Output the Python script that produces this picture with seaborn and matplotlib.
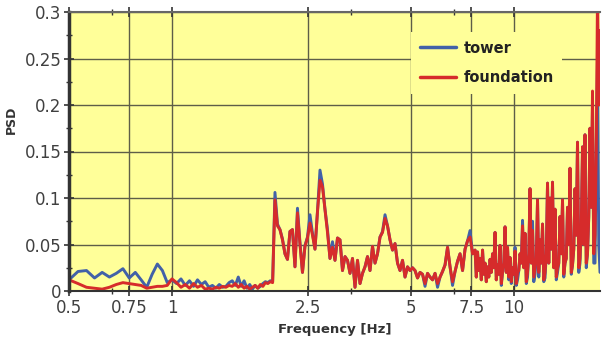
import numpy as np
import pandas as pd
import matplotlib
matplotlib.use("Agg")
import matplotlib.pyplot as plt
import seaborn as sns
from matplotlib.ticker import FixedLocator, FixedFormatter, NullFormatter

# ---------------- data ----------------
# low band: FFT bins every 1/32 Hz from 0.5 Hz
freq_low = 0.5 + np.arange(48) / 32.0
tower_low = [0.012, 0.021, 0.022, 0.014, 0.020, 0.015, 0.019, 0.024, 0.014, 0.020,
             0.012, 0.004, 0.018, 0.029, 0.022, 0.009, 0.012, 0.008, 0.013, 0.006,
             0.011, 0.005, 0.012, 0.007, 0.010, 0.004, 0.006, 0.003, 0.007, 0.004,
             0.005, 0.009, 0.011, 0.006, 0.015, 0.005, 0.011, 0.003, 0.007, 0.002,
             0.006, 0.003, 0.005, 0.008, 0.010, 0.009, 0.011, 0.010]
foundation_low = [0.012, 0.008, 0.004, 0.003, 0.002, 0.004, 0.007, 0.009, 0.008, 0.007,
                  0.006, 0.003, 0.004, 0.005, 0.005, 0.006, 0.013, 0.009, 0.004, 0.007,
                  0.003, 0.008, 0.004, 0.006, 0.002, 0.003, 0.002, 0.004, 0.003, 0.005,
                  0.004, 0.006, 0.005, 0.008, 0.004, 0.007, 0.003, 0.005, 0.002, 0.004,
                  0.006, 0.003, 0.007, 0.005, 0.009, 0.008, 0.010, 0.009]

# mid band: 2 Hz to ~7.7 Hz
freq_mid = np.geomspace(2.0, 7.69, 81)
foundation_mid = [
    0.098, 0.070, 0.066, 0.055, 0.040, 0.034, 0.064, 0.066, 0.026, 0.084,
    0.050, 0.020, 0.048, 0.057, 0.073, 0.060, 0.045, 0.085, 0.119, 0.112,
    0.087, 0.063, 0.035, 0.047, 0.033, 0.057, 0.055, 0.022, 0.037, 0.033,
    0.019, 0.035, 0.004, 0.033, 0.008, 0.019, 0.026, 0.037, 0.022, 0.048,
    0.030, 0.040, 0.058, 0.063, 0.078, 0.070, 0.055, 0.044, 0.051, 0.030,
    0.022, 0.033, 0.015, 0.026, 0.022, 0.025, 0.022, 0.014, 0.020, 0.018,
    0.008, 0.019, 0.015, 0.012, 0.019, 0.008, 0.015, 0.021, 0.028, 0.047,
    0.026, 0.010, 0.021, 0.032, 0.040, 0.022, 0.045, 0.054, 0.058, 0.040,
    0.044]
tower_mid = [
    0.106, 0.072, 0.066, 0.056, 0.040, 0.034, 0.064, 0.066, 0.026, 0.089,
    0.052, 0.020, 0.049, 0.058, 0.082, 0.062, 0.045, 0.086, 0.130, 0.115,
    0.088, 0.066, 0.035, 0.053, 0.033, 0.057, 0.055, 0.022, 0.037, 0.033,
    0.019, 0.035, 0.004, 0.033, 0.008, 0.019, 0.026, 0.037, 0.022, 0.048,
    0.030, 0.040, 0.058, 0.064, 0.082, 0.070, 0.055, 0.044, 0.051, 0.030,
    0.022, 0.033, 0.015, 0.026, 0.022, 0.025, 0.022, 0.014, 0.020, 0.018,
    0.005, 0.019, 0.015, 0.012, 0.019, 0.004, 0.015, 0.021, 0.028, 0.047,
    0.026, 0.006, 0.021, 0.032, 0.040, 0.022, 0.045, 0.054, 0.065, 0.040,
    0.044]

# top band: ~7.7 Hz to ~17.8 Hz (denser bins)
freq_top = np.geomspace(7.69, 17.83, 101)[1:]
foundation_top = [
    0.015, 0.042, 0.022, 0.035, 0.012, 0.044, 0.018, 0.030, 0.010, 0.026,
    0.015, 0.034, 0.020, 0.040, 0.025, 0.063, 0.012, 0.028, 0.018, 0.049,
    0.008, 0.020, 0.030, 0.069, 0.020, 0.047, 0.015, 0.036, 0.010, 0.025,
    0.018, 0.043, 0.008, 0.020, 0.022, 0.040, 0.030, 0.070, 0.025, 0.062,
    0.010, 0.020, 0.040, 0.110, 0.030, 0.065, 0.015, 0.025, 0.035, 0.098,
    0.020, 0.055, 0.030, 0.072, 0.012, 0.020, 0.040, 0.116, 0.030, 0.100,
    0.045, 0.117, 0.025, 0.088, 0.015, 0.025, 0.030, 0.080, 0.040, 0.098,
    0.018, 0.030, 0.035, 0.090, 0.050, 0.132, 0.020, 0.028, 0.045, 0.110,
    0.060, 0.160, 0.025, 0.035, 0.070, 0.155, 0.050, 0.168, 0.030, 0.040,
    0.080, 0.175, 0.090, 0.215, 0.040, 0.060, 0.150, 0.320, 0.200, 0.280]
tower_top = [
    0.015, 0.042, 0.022, 0.035, 0.012, 0.044, 0.018, 0.030, 0.010, 0.026,
    0.015, 0.034, 0.020, 0.040, 0.025, 0.063, 0.012, 0.028, 0.018, 0.049,
    0.006, 0.020, 0.030, 0.069, 0.020, 0.047, 0.012, 0.036, 0.008, 0.025,
    0.018, 0.047, 0.006, 0.012, 0.022, 0.040, 0.030, 0.076, 0.025, 0.062,
    0.008, 0.015, 0.040, 0.110, 0.030, 0.075, 0.010, 0.018, 0.035, 0.098,
    0.015, 0.055, 0.030, 0.072, 0.010, 0.014, 0.040, 0.116, 0.030, 0.100,
    0.045, 0.117, 0.025, 0.088, 0.012, 0.020, 0.030, 0.080, 0.040, 0.098,
    0.015, 0.030, 0.035, 0.090, 0.050, 0.132, 0.018, 0.028, 0.045, 0.110,
    0.060, 0.160, 0.020, 0.030, 0.070, 0.155, 0.050, 0.168, 0.025, 0.040,
    0.080, 0.175, 0.090, 0.200, 0.030, 0.030, 0.150, 0.250, 0.050, 0.020]

series = ["tower", "foundation"]
colors = {"tower": "#4261a8", "foundation": "#d62b2b"}
xtick_vals = [0.5, 0.75, 1, 2.5, 5, 7.5, 10]
xtick_labels = ["0.5", "0.75", "1", "2.5", "5", "7.5", "10"]
xminor_vals = [0.6667, 3.333, 6.667]
ytick_vals = [0, 0.05, 0.1, 0.15, 0.2, 0.25, 0.3]
ytick_labels = ["0", "0.05", "0.1", "0.15", "0.2", "0.25", "0.3"]
yminor_vals = [0.025, 0.075, 0.125, 0.175, 0.225, 0.275]

freq = np.concatenate([freq_low, freq_mid, freq_top])
df = pd.concat([
    pd.DataFrame({"freq": freq, "psd": tower_low + tower_mid + tower_top,
                  "sensor": "tower"}),
    pd.DataFrame({"freq": freq, "psd": foundation_low + foundation_mid + foundation_top,
                  "sensor": "foundation"}),
])

# ---------------- plot ----------------
sns.set_style("ticks", rc={"axes.facecolor": "#ffff99"})
plt.rcParams["font.family"] = ["DejaVu Sans"]

fig = plt.figure(figsize=(6.03, 3.38), dpi=100)
ax = fig.add_axes([69 / 603, 1 - 291 / 338, 531 / 603, 279 / 338])

sns.lineplot(data=df, x="freq", y="psd", hue="sensor", hue_order=series,
             palette=colors, linewidth=2.1, sort=False, estimator=None, ax=ax)

ax.set_xscale("log")
ax.set_xlim(0.5, 17.83)
ax.set_ylim(0, 0.3)

ax.xaxis.set_major_locator(FixedLocator(xtick_vals))
ax.xaxis.set_major_formatter(FixedFormatter(xtick_labels))
ax.xaxis.set_minor_locator(FixedLocator(xminor_vals))
ax.xaxis.set_minor_formatter(NullFormatter())
ax.yaxis.set_major_locator(FixedLocator(ytick_vals))
ax.yaxis.set_major_formatter(FixedFormatter(ytick_labels))
ax.yaxis.set_minor_locator(FixedLocator(yminor_vals))

ax.grid(True, which="major", color="#5e5e48", linewidth=1)
ax.set_axisbelow(True)

ax.tick_params(axis="both", which="major", direction="inout", length=7, width=1.2,
               color="#333333", labelsize=12, labelcolor="#404040", pad=2)
ax.tick_params(axis="both", which="minor", direction="inout", length=5, width=1.0,
               color="#333333")
ax.tick_params(axis="x", which="both", top=True)

for side in ["left", "bottom"]:
    ax.spines[side].set_color("#333333")
ax.spines["left"].set_linewidth(2.5)
ax.spines["bottom"].set_linewidth(1.5)
ax.spines["top"].set_color("#666666")
ax.spines["top"].set_linewidth(1.5)
ax.spines["right"].set_visible(False)

ax.set_xlabel("Frequency [Hz]", fontsize=9.5, fontweight="bold", color="#333333")
ax.set_ylabel("PSD", fontsize=9, fontweight="bold", color="#333333")
ax.xaxis.set_label_coords(0.5, -0.115)
ax.yaxis.set_label_coords(-0.096, 0.613)

handles, labels = ax.get_legend_handles_labels()
for h in handles:
    h.set_linewidth(2.5)
leg = ax.legend(handles, labels, loc="upper left", bbox_to_anchor=(0.63, 0.955),
                frameon=True, facecolor="#ffff99", edgecolor="none", framealpha=1,
                fancybox=False, handlelength=2.5, handletextpad=0.5, labelspacing=1.0,
                borderpad=0.6, prop={"size": 10.5, "weight": "bold"})
for t in leg.get_texts():
    t.set_color("#222222")

fig.savefig("out.png", dpi=100, facecolor="white")
